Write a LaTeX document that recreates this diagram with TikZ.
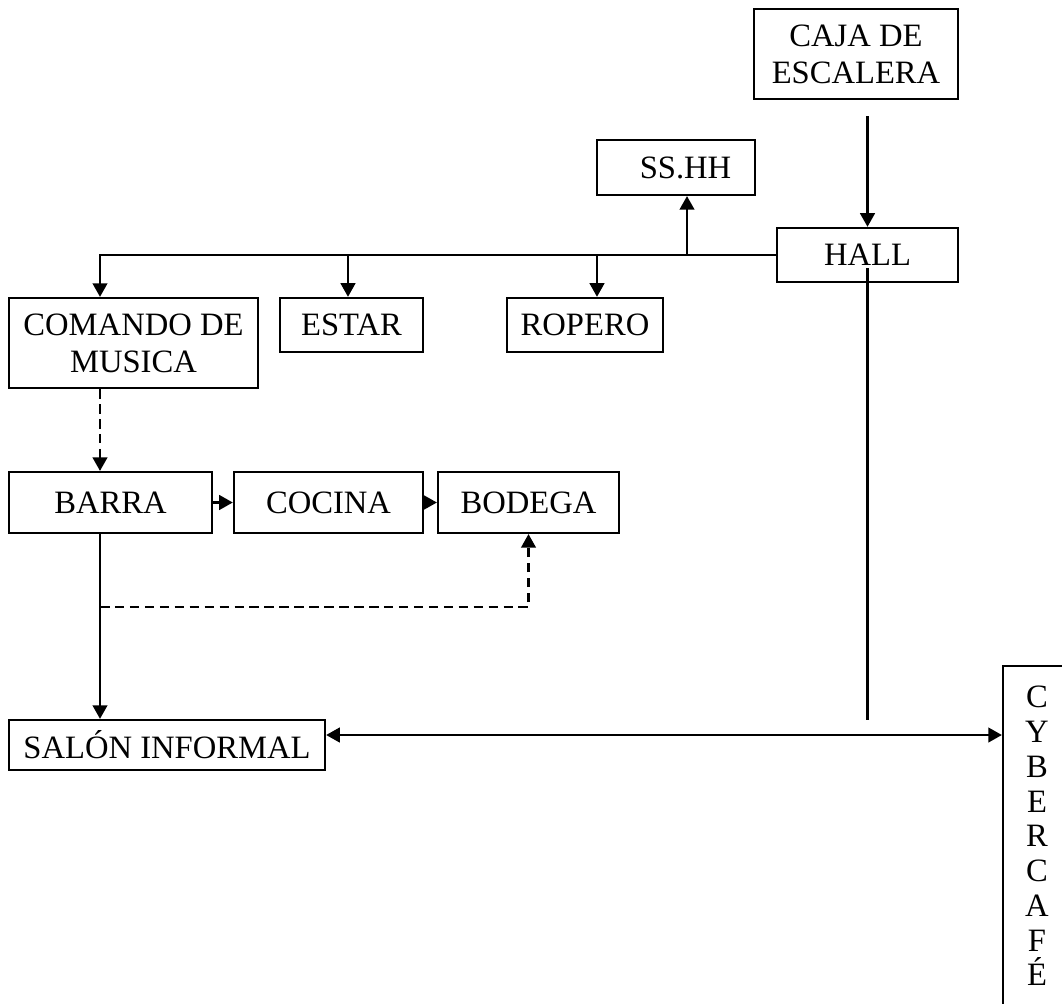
\documentclass[tikz,border=0pt]{standalone}
\usepackage{fontspec}
\setmainfont{Liberation Serif}
\usetikzlibrary{arrows.meta}

\begin{document}
\begin{tikzpicture}[x=0.368pt, y=-0.368pt,
    box/.style={draw, line width=0.85pt, inner sep=0pt, align=center,
      font=\fontsize{12}{13.7}\selectfont},
    arr/.style={line width=0.8pt, -{Triangle[length=5pt,width=5.4pt]}},
    arrtwo/.style={line width=0.8pt, {Triangle[length=5pt,width=5.4pt]}-{Triangle[length=5pt,width=5.4pt]}},
    dsh/.style={dash pattern=on 3.5pt off 2pt}]
        \useasboundingbox (0,0) rectangle (1062,1003);
        \clip (0,0) rectangle (1062,1003);

        % Boxes
        \node[box, minimum width=75.1pt, minimum height=33.1pt] (caja) at (856,54) {CAJA DE\\ESCALERA};
        \node[box, minimum width=58.1pt, minimum height=20.2pt] (sshh) at (676,167.5) {\hspace{7pt}SS.HH};
        \node[box, minimum width=66.6pt, minimum height=19.9pt] (hall) at (867.5,255) {HALL};
        \node[box, minimum width=91.6pt, minimum height=33.1pt] (comando) at (133.5,343) {COMANDO DE\\MUSICA};
        \node[box, minimum width=52.6pt, minimum height=19.9pt] (estar) at (351.5,325) {ESTAR};
        \node[box, minimum width=57.4pt, minimum height=19.9pt] (ropero) at (585,325) {ROPERO};
        \node[box, minimum width=74.7pt, minimum height=22.4pt] (barra) at (110.5,502.5) {BARRA};
        \node[box, minimum width=69.6pt, minimum height=22.4pt] (cocina) at (328.5,502.5) {COCINA};
        \node[box, minimum width=66.6pt, minimum height=22.4pt] (bodega) at (528.5,502.5) {BODEGA};
        \node[box, minimum width=116.3pt, minimum height=18.4pt] (salon) at (167,745) {SALÓN INFORMAL};
        \node[box, minimum width=25pt, minimum height=125.1pt,
          font=\fontsize{12}{12.8}\selectfont] (cyber) at (1037,836) {C\\Y\\B\\E\\R\\C\\A\\F\\É};

        % Branch points
        \coordinate (musx) at (100,0);
        \coordinate (estx) at (348,0);
        \coordinate (ropx) at (597,0);
        \coordinate (ssx) at (687,0);
        \coordinate (lowdash) at (100,607);
        \coordinate (salonline) at (0,735);
        \coordinate (hallend) at (867.5,720);

        % Stairs to hall
        \draw[arr, shorten <=5.9pt] (caja.south -| hall.north) -- (hall.north);

        % Hall to the rooms
        \draw[arr] (hall.west) -| (musx |- comando.north);
        \draw[arr] (hall.west -| estx) -- (estx |- estar.north);
        \draw[arr] (hall.west -| ropx) -- (ropx |- ropero.north);
        \draw[arr] (hall.west -| ssx) -- (ssx |- sshh.south);
        \draw[line width=0.8pt] ([yshift=-4.8pt]hall.center) -- (hallend);

        % Bar and service
        \draw[arr, dsh] (comando.south -| musx) -- (barra.north -| musx);
        \draw[arr] (barra.east) -- (cocina.west);
        \draw[arr] (cocina.east) -- (bodega.west);
        \draw[arr] (barra.south -| musx) -- (salon.north -| musx);
        \draw[arr, dsh] (lowdash) -| (bodega.south);

        % Salon to cybercafe
        \draw[arrtwo] (salonline -| salon.east) -- (salonline -| cyber.west);
      \end{tikzpicture}
\end{document}
